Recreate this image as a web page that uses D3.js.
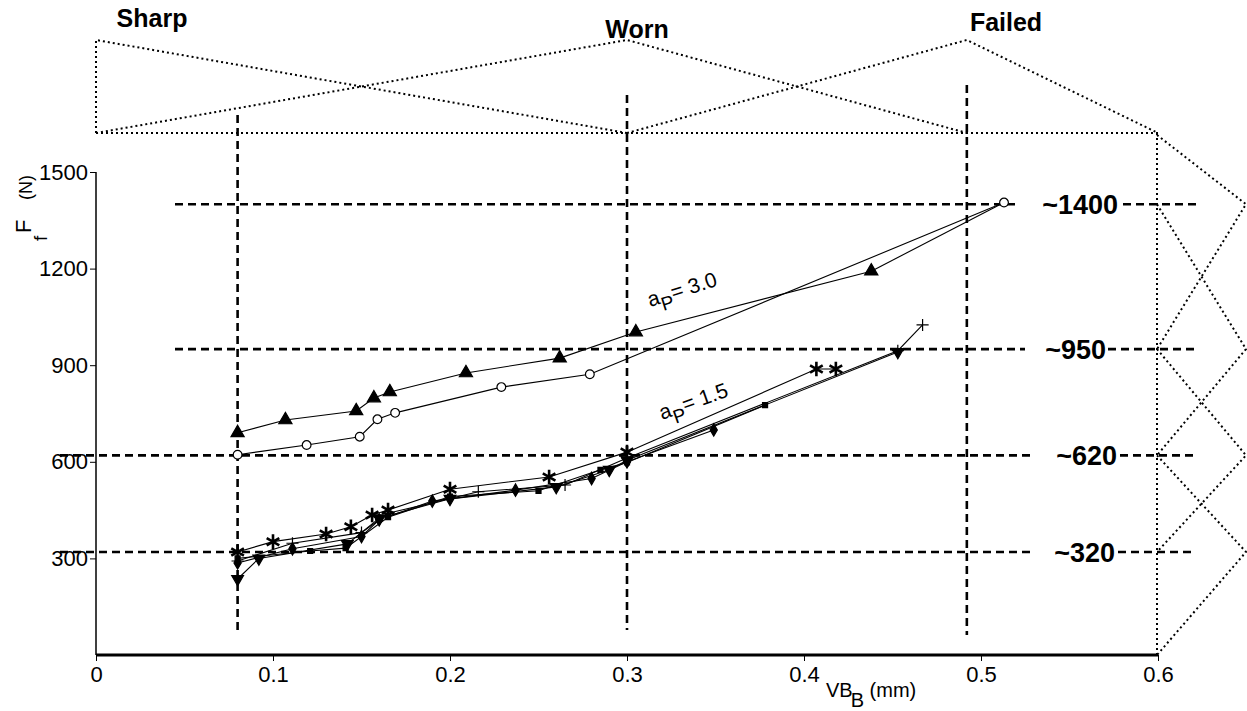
<!DOCTYPE html>
<html>
<head>
<meta charset="utf-8">
<script src="https://cdn.jsdelivr.net/npm/d3@7"></script>
<style>
  body { margin: 0; background: #fff; }
  text { font-family: Arial, "Liberation Sans", sans-serif; fill: #000; }
</style>
</head>
<body>
<div id="chart"></div>
<script>
// ---- data ----
var xTicks = [0, 0.1, 0.2, 0.3, 0.4, 0.5, 0.6];
var yTicks = [300, 600, 900, 1200, 1500];

// a_P = 3.0
var triUp = [[0.08, 690], [0.107, 730], [0.147, 758], [0.157, 798], [0.166, 817], [0.209, 876], [0.262, 922], [0.305, 1003], [0.438, 1192]];
var triUpEnd = [[0.438, 1192], [0.513, 1405]];
var circles = [[0.08, 622], [0.119, 652], [0.149, 678], [0.159, 732], [0.169, 752], [0.229, 832], [0.279, 872], [0.513, 1405]];

// a_P = 1.5
var asterisk = [[0.08, 320], [0.1, 352], [0.13, 376], [0.144, 398], [0.156, 435], [0.165, 450], [0.2, 515], [0.256, 553], [0.3, 630], [0.407, 888], [0.418, 888]];
var triDown = [[0.08, 236], [0.092, 300], [0.142, 345], [0.16, 425], [0.2, 485], [0.26, 522], [0.29, 575], [0.3, 605], [0.453, 941]];
var plus = [[0.08, 292], [0.111, 347], [0.15, 380], [0.165, 440], [0.216, 507], [0.265, 528], [0.3, 612], [0.453, 945], [0.467, 1025]];
var diamond = [[0.08, 286], [0.111, 330], [0.15, 368], [0.16, 420], [0.19, 478], [0.237, 512], [0.28, 548], [0.3, 600], [0.349, 699]];
var square = [[0.08, 300], [0.121, 323], [0.141, 332], [0.165, 428], [0.2, 492], [0.25, 510], [0.285, 575], [0.3, 598], [0.378, 776]];

// fuzzy sets
var stateNames = ["Sharp", "Worn", "Failed"];
var stateVB = [0.08, 0.3, 0.492];
var sharpSet = [[0, 0], [0, 1], [0.3, 0]];
var wornSet = [[0, 0], [0.3, 1], [0.492, 0]];
var failedSet = [[0.3, 0], [0.492, 1], [0.6, 0]];

var levels = [1400, 950, 620, 320];
var levelLabels = ["~1400", "~950", "~620", "~320"];
var forceSets = [
  [[1615, 0], [1400, 1], [950, 0]],
  [[1400, 0], [950, 1], [620, 0]],
  [[950, 0], [620, 1], [320, 0]],
  [[620, 0], [320, 1], [0, 0]]
];

// ---- layout ----
var W = 1247, H = 711;
var layout = {
  refStart: [175, 175, 60, 60],
  refEnd: [1015, 1025, 1033, 1030],
  tailStart: [1123, 1108, 1120, 1118],
  tailEnd: 1196,
  labelEnd: [1118, 1106, 1117, 1115],
  vTop: [115, 95, 85],
  vBottom: [630, 630, 635],
  stateLabelX: [152, 637, 1006],
  stateLabelY: [27, 38, 31]
};

var svg = d3.select('#chart')
  .append('svg')
  .attr('width', W)
  .attr('height', H);

var xScale = d3.scaleLinear().domain([0, 0.6]).range([96, 1158]);
var yScale = d3.scaleLinear().domain([0, 1500]).range([655, 172]);
var muTop = d3.scaleLinear().domain([0, 1]).range([133, 40]);
var muRight = d3.scaleLinear().domain([0, 1]).range([1157, 1246]);

var dotted = "2,3";
var dashed = "8,5";

// top membership functions
var topLine = d3.line().x(d => xScale(d[0])).y(d => muTop(d[1]));
svg.append('g')
  .selectAll('path')
  .data([sharpSet, wornSet, failedSet])
  .enter()
  .append('path')
  .attr('d', topLine)
  .style('fill', 'none')
  .style('stroke', '#000')
  .style('stroke-width', 2)
  .style('stroke-dasharray', dotted);

svg.append('line')
  .attr('x1', xScale(0)).attr('x2', xScale(0.6))
  .attr('y1', muTop(0)).attr('y2', muTop(0))
  .style('stroke', '#000').style('stroke-width', 2).style('stroke-dasharray', dotted);

// right membership functions
var rightLine = d3.line().x(d => muRight(d[1])).y(d => yScale(d[0]));
svg.append('g')
  .selectAll('path')
  .data(forceSets)
  .enter()
  .append('path')
  .attr('d', rightLine)
  .style('fill', 'none')
  .style('stroke', '#000')
  .style('stroke-width', 2)
  .style('stroke-dasharray', dotted);

svg.append('line')
  .attr('x1', muRight(0)).attr('x2', muRight(0))
  .attr('y1', muTop(0)).attr('y2', yScale(0))
  .style('stroke', '#000').style('stroke-width', 2).style('stroke-dasharray', dotted);

// state labels
svg.selectAll('.state')
  .data(stateNames)
  .enter()
  .append('text')
  .attr('class', 'state')
  .attr('x', (d, i) => layout.stateLabelX[i])
  .attr('y', (d, i) => layout.stateLabelY[i])
  .style('text-anchor', 'middle')
  .style('font-size', '25px')
  .style('font-weight', 'bold')
  .text(d => d);

// vertical dashed lines
svg.selectAll('.vline')
  .data(stateVB)
  .enter()
  .append('line')
  .attr('class', 'vline')
  .attr('x1', d => xScale(d)).attr('x2', d => xScale(d))
  .attr('y1', (d, i) => layout.vTop[i])
  .attr('y2', (d, i) => layout.vBottom[i])
  .style('stroke', '#000').style('stroke-width', 2.6).style('stroke-dasharray', dashed);

// horizontal dashed lines
svg.selectAll('.hline')
  .data(levels)
  .enter()
  .append('line')
  .attr('class', 'hline')
  .attr('x1', (d, i) => layout.refStart[i])
  .attr('x2', (d, i) => layout.refEnd[i])
  .attr('y1', d => yScale(d)).attr('y2', d => yScale(d))
  .style('stroke', '#000').style('stroke-width', 2.6).style('stroke-dasharray', dashed);

svg.selectAll('.htail')
  .data(levels)
  .enter()
  .append('line')
  .attr('class', 'htail')
  .attr('x1', (d, i) => layout.tailStart[i])
  .attr('x2', layout.tailEnd)
  .attr('y1', d => yScale(d)).attr('y2', d => yScale(d))
  .style('stroke', '#000').style('stroke-width', 2.6).style('stroke-dasharray', dashed);

svg.selectAll('.lvl')
  .data(levelLabels)
  .enter()
  .append('text')
  .attr('class', 'lvl')
  .attr('x', (d, i) => layout.labelEnd[i])
  .attr('y', (d, i) => yScale(levels[i]))
  .attr('dy', '0.36em')
  .style('text-anchor', 'end')
  .style('font-size', '27px')
  .style('font-weight', 'bold')
  .text(d => d);

// axes
var xAxis = svg.append('g')
  .attr('transform', 'translate(0,' + yScale(0) + ')')
  .call(d3.axisBottom(xScale).tickValues(xTicks).tickSize(6).tickFormat(d3.format('')));
xAxis.select('.domain').attr('stroke-width', 3).attr('d', 'M' + xScale(0) + ',0H' + xScale(0.6));
xAxis.selectAll('text').attr('font-size', 22).style('font-size', '22px').attr('y', 11);

var yAxis = svg.append('g')
  .attr('transform', 'translate(' + xScale(0) + ',0)')
  .call(d3.axisLeft(yScale).tickValues(yTicks).tickSize(6).tickFormat(d3.format('d')));
yAxis.select('.domain').attr('stroke-width', 1.5).attr('d', 'M0,' + yScale(1500) + 'V' + yScale(0));
yAxis.selectAll('text').attr('font-size', 22).style('font-size', '22px').attr('x', -8);

// axis titles (each piece rotated on its own)
var yTitleParts = [
  { t: 'F', x: 31, y: 233, fs: 22 },
  { t: 'f', x: 47, y: 241, fs: 19 },
  { t: '(N)', x: 32, y: 200, fs: 18 }
];
svg.selectAll('.ytitle')
  .data(yTitleParts)
  .enter()
  .append('text')
  .attr('class', 'ytitle')
  .attr('transform', d => 'translate(' + d.x + ',' + d.y + ') rotate(-90)')
  .style('font-size', d => d.fs + 'px')
  .text(d => d.t);

var xTitle = svg.append('text')
  .attr('x', 826)
  .attr('y', 697)
  .style('font-size', '20px');
xTitle.append('tspan').text('VB');
xTitle.append('tspan').attr('dx', -2).attr('dy', 10).text('B');
xTitle.append('tspan').attr('dy', -10).text(' (mm)');

// series lines
var line = d3.line().x(d => xScale(d[0])).y(d => yScale(d[1]));
var allSeries = [
  { data: triUp, sym: d3.symbolTriangle, size: 75, fill: '#000', rot: 0, sw: 1.2 },
  { data: triUpEnd, sym: null },
  { data: circles, sym: d3.symbolCircle, size: 60, fill: '#fff', rot: 0, sw: 1.2 },
  { data: triDown, sym: d3.symbolTriangle, size: 60, fill: '#000', rot: 180, sw: 1.2 },
  { data: plus, sym: d3.symbolPlus, size: 50, fill: '#000', rot: 0, sw: 1.2 },
  { data: diamond, sym: d3.symbolDiamond, size: 45, fill: '#000', rot: 0, sw: 1.2 },
  { data: square, sym: d3.symbolSquare, size: 25, fill: '#000', rot: 0, sw: 1.2 },
  { data: asterisk, sym: d3.symbolAsterisk, size: 150, fill: 'none', rot: 0, sw: 2.6 }
];

var gSeries = svg.append('g');
gSeries.selectAll('path.series')
  .data(allSeries)
  .enter()
  .append('path')
  .attr('class', 'series')
  .attr('d', d => line(d.data))
  .style('fill', 'none')
  .style('stroke', '#000')
  .style('stroke-width', 1.1);

allSeries.forEach(function (s) {
  if (!s.sym) return;
  gSeries.append('g')
    .selectAll('path')
    .data(s.data)
    .enter()
    .append('path')
    .attr('transform', d => 'translate(' + xScale(d[0]) + ',' + yScale(d[1]) + ') rotate(' + s.rot + ')')
    .attr('d', d3.symbol().type(s.sym).size(s.size))
    .style('fill', s.fill)
    .style('stroke', '#000')
    .style('stroke-width', s.sw);
});

// depth of cut labels
var lab3 = svg.append('text')
  .attr('transform', 'translate(650,307) rotate(-17.5)')
  .style('font-size', '21px');
lab3.append('tspan').text('a');
lab3.append('tspan').attr('dy', 8).style('font-size', '19px').text('P');
lab3.append('tspan').attr('dy', -8).text('= 3.0');

var lab15 = svg.append('text')
  .attr('transform', 'translate(662,420) rotate(-19.5)')
  .style('font-size', '21px');
lab15.append('tspan').text('a');
lab15.append('tspan').attr('dy', 8).style('font-size', '19px').text('P');
lab15.append('tspan').attr('dy', -8).text('= 1.5');
</script>
</body>
</html>
